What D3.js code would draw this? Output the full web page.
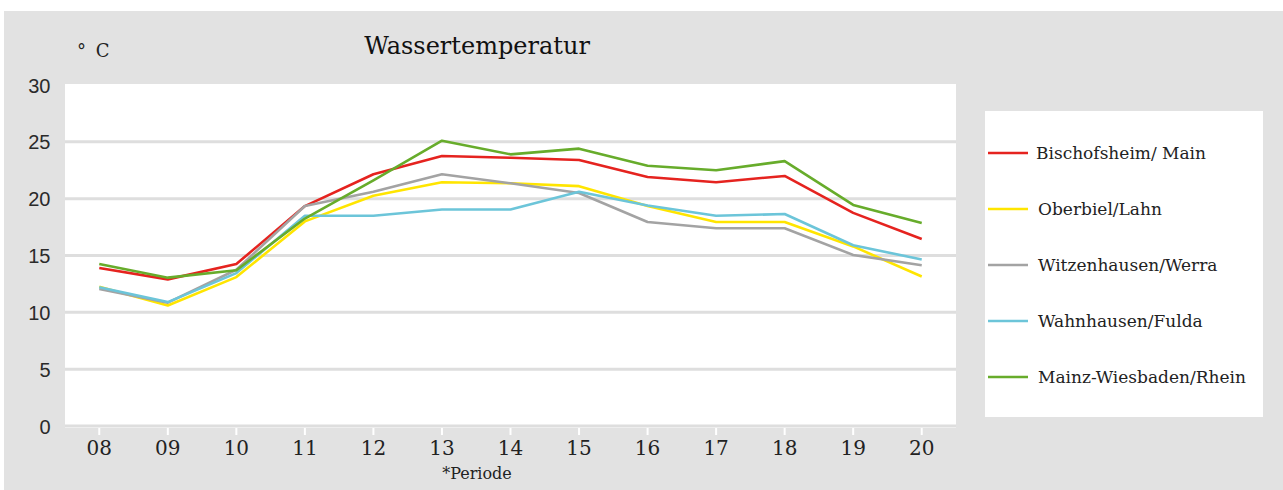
<!DOCTYPE html>
<html><head><meta charset="utf-8">
<script src="https://cdn.jsdelivr.net/npm/d3@7/dist/d3.min.js"></script>
<style>html,body{margin:0;padding:0;background:#fff;}svg{display:block;}</style>
</head><body>
<svg id="chart" width="1283" height="490"></svg>
<script>
const categories = ["08","09","10","11","12","13","14","15","16","17","18","19","20"];
const seriesNames = ["Bischofsheim/ Main","Oberbiel/Lahn","Witzenhausen/Werra","Wahnhausen/Fulda","Mainz-Wiesbaden/Rhein"];
const seriesColors = ["#e5231f","#ffe500","#a3a3a3","#6cc5d9","#67ac2b"];
const bischofsheim = [13.9,12.9,14.25,19.35,22.15,23.75,23.6,23.4,21.9,21.45,22.0,18.75,16.45];
const oberbiel     = [12.25,10.6,13.1,18.0,20.25,21.45,21.35,21.1,19.35,17.95,17.95,15.8,13.15];
const witzenhausen = [12.05,10.85,13.75,19.35,20.6,22.15,21.35,20.5,17.95,17.4,17.4,15.05,14.15];
const wahnhausen   = [12.2,10.9,13.45,18.5,18.5,19.05,19.05,20.6,19.4,18.5,18.65,15.9,14.65];
const mainz        = [14.25,13.05,13.7,18.25,21.6,25.1,23.9,24.4,22.9,22.5,23.3,19.45,17.85];
const seriesValues = [bischofsheim, oberbiel, witzenhausen, wahnhausen, mainz];
const yTicks = [0,5,10,15,20,25,30];

const svg = d3.select("#chart");
const W = 1283, H = 490;
const bg = "#e2e2e2";
svg.append("rect").attr("x",4).attr("y",11).attr("width",W-4).attr("height",H-11).attr("fill",bg);

const plot = {left:65, right:956, top:84, bottom:428};
svg.append("rect").attr("x",plot.left).attr("y",plot.top)
  .attr("width",plot.right-plot.left).attr("height",plot.bottom-plot.top).attr("fill","#fff");

const x = d3.scaleBand().domain(categories).range([plot.left, plot.right]).padding(0);
const xc = d => x(d) + x.bandwidth()/2;
const y = d3.scaleLinear().domain([0,30]).range([426,85]);

// gridlines
svg.append("g").selectAll("line").data(yTicks.filter(t=>t<30)).join("line")
  .attr("x1",plot.left).attr("x2",plot.right)
  .attr("y1",d=>y(d)).attr("y2",d=>y(d))
  .attr("stroke","#dedede").attr("stroke-width",3);

// y axis labels
const yAxis = d3.axisLeft(y).tickValues(yTicks).tickSize(0).tickPadding(0);
const gy = svg.append("g").attr("transform","translate(50.5,0)").call(yAxis);
gy.select(".domain").remove();
gy.selectAll("text").attr("font-family","'Liberation Sans', Arial, sans-serif")
  .attr("font-size",20).attr("fill","#2a2a2a").attr("dy","0.35em");

// x axis
const xAxis = d3.axisBottom(x).tickSize(7).tickPadding(6);
const gx = svg.append("g").attr("transform",`translate(0,${plot.bottom})`).call(xAxis);
gx.select(".domain").remove();
gx.selectAll(".tick line").attr("stroke","#fff").attr("stroke-width",2);
gx.selectAll("text").attr("font-family","'DejaVu Serif', serif")
  .attr("font-size",20).attr("fill","#222");

// lines
const line = d3.line().x((d,i)=>xc(categories[i])).y(d=>y(d));
svg.append("g").selectAll("path").data(seriesValues).join("path")
  .attr("d",d=>line(d)).attr("fill","none")
  .attr("stroke",(d,i)=>seriesColors[i]).attr("stroke-width",2.6)
  .attr("stroke-linejoin","round");

// titles
svg.append("text").attr("x",477).attr("y",54).attr("text-anchor","middle")
  .attr("font-family","'DejaVu Serif', serif").attr("font-size",24).attr("fill","#111")
  .text("Wassertemperatur");
svg.append("text").attr("x",77).attr("y",57)
  .attr("font-family","'DejaVu Serif', serif").attr("font-size",18).attr("fill","#222")
  .attr("word-spacing",4).text("° C");
svg.append("text").attr("x",477).attr("y",479).attr("text-anchor","middle")
  .attr("font-family","'DejaVu Serif', serif").attr("font-size",16).attr("fill","#222")
  .text("*Periode");

// legend
const lg = svg.append("g");
lg.append("rect").attr("x",985).attr("y",111).attr("width",278).attr("height",306).attr("fill","#fff");
const ly = d3.scalePoint().domain(seriesNames).range([153,377]);
const items = lg.selectAll("g.item").data(seriesNames).join("g").attr("class","item")
  .attr("transform",d=>`translate(0,${ly(d)})`);
items.append("line").attr("x1",988).attr("x2",1028).attr("y1",0).attr("y2",0)
  .attr("stroke",(d,i)=>seriesColors[i]).attr("stroke-width",2.6);
items.append("text").attr("x",(d,i)=>i===0?1036:1038).attr("y",0).attr("dy","0.35em")
  .attr("font-family","'DejaVu Serif', serif").attr("font-size",17).attr("fill","#222")
  .text(d=>d);
</script>
</body></html>
